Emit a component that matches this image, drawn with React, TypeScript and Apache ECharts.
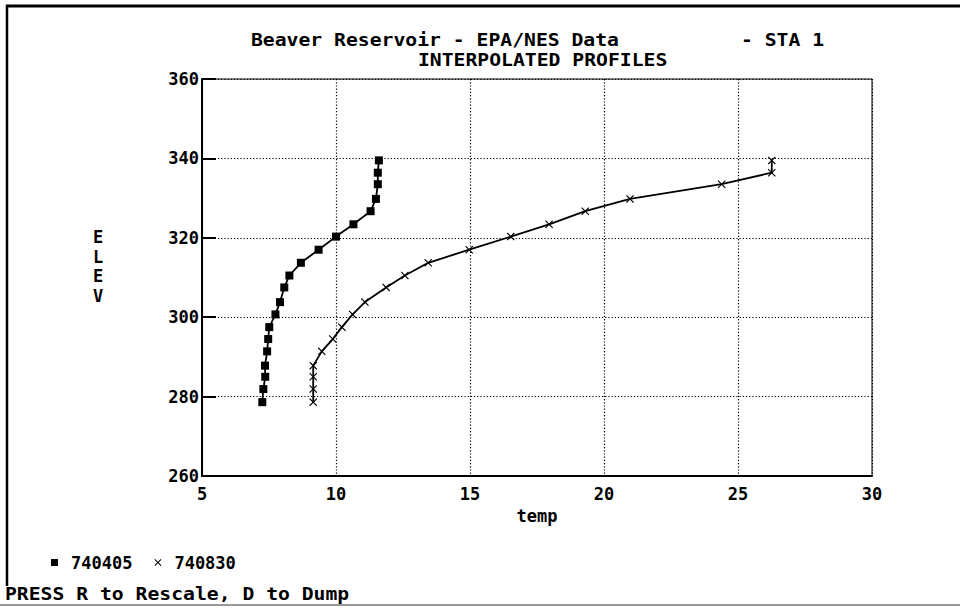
import React, { useEffect, useRef } from "react";
import * as echarts from "echarts";

// Elevation of each interpolated depth (shared by both profiles)
const elevation = [339.5, 336.4, 333.5, 329.8, 326.7, 323.4, 320.3, 317.0, 313.7, 310.5, 307.5, 303.8, 300.7, 297.5, 294.5, 291.4, 287.8, 285.0, 281.9, 278.6];
// Temperature profiles for each sampling date
const temp740405 = [11.6, 11.56, 11.56, 11.49, 11.29, 10.65, 10.0, 9.35, 8.69, 8.26, 8.07, 7.91, 7.74, 7.51, 7.47, 7.43, 7.35, 7.36, 7.29, 7.25];
const temp740830 = [26.26, 26.26, 24.39, 20.97, 19.3, 17.95, 16.52, 14.97, 13.44, 12.57, 11.87, 11.08, 10.62, 10.22, 9.88, 9.47, 9.15, 9.15, 9.15, 9.15];
const seriesNames = ["740405", "740830"];

const FONT = "'DejaVu Sans Mono', monospace";
const CROSS = "path://M1,0L5,4L9,0L10,1L6,5L10,9L9,10L5,6L1,10L0,9L4,5L0,1Z";

const pairs = (xs: number[]) => xs.map((t, i) => [t, elevation[i]]);

function txt(text: string, x: number, y: number, extra: any = {}) {
  return {
    type: "text",
    x,
    y,
    scaleX: 1.16,
    style: {
      text,
      fill: "#000",
      font: `bold 17px ${FONT}`,
      textAlign: "left",
      textVerticalAlign: "middle",
      ...extra,
    },
  };
}

export default function App() {
  const ref = useRef<HTMLDivElement>(null);

  useEffect(() => {
    document.body.style.margin = "0";
    const chart = echarts.init(ref.current!, null, { renderer: "svg" });
    chart.setOption({
      animation: false,
      backgroundColor: "#fff",
      textStyle: { fontFamily: FONT, fontWeight: "bold", color: "#000" },
      grid: {
        left: 202,
        top: 79,
        width: 670,
        height: 397,
        show: true,
        borderColor: "#000",
        borderWidth: 1,
      },
      xAxis: {
        type: "value",
        min: 5,
        max: 30,
        interval: 5,
        name: "temp",
        nameLocation: "middle",
        nameGap: 31,
        nameTextStyle: { fontFamily: FONT, fontWeight: "bold", fontSize: 17, color: "#000" },
        axisLine: { lineStyle: { color: "#000", width: 2 } },
        axisTick: { show: false },
        axisLabel: { margin: 9, fontFamily: FONT, fontWeight: "bold", fontSize: 17, color: "#000" },
        splitLine: { lineStyle: { color: "#000", width: 1.2, type: [1.2, 2] } },
      },
      yAxis: {
        type: "value",
        min: 260,
        max: 360,
        interval: 20,
        axisLine: { show: true, lineStyle: { color: "#000", width: 2 } },
        axisTick: { show: true, inside: true, length: 14, lineStyle: { color: "#000", width: 2 } },
        axisLabel: { margin: 3, fontFamily: FONT, fontWeight: "bold", fontSize: 17, color: "#000" },
        splitLine: { lineStyle: { color: "#000", width: 1.2, type: [1.2, 2] } },
      },
      legend: {
        left: 46,
        top: 549,
        itemWidth: 7,
        itemHeight: 7,
        itemGap: 22,
        textStyle: { fontFamily: FONT, fontWeight: "bold", fontSize: 17, color: "#000", padding: [0, 0, 0, 8] },
        data: [
          { name: seriesNames[0], icon: "rect" },
          { name: seriesNames[1], icon: CROSS },
        ],
      },
      series: [
        {
          name: seriesNames[0],
          type: "line",
          data: pairs(temp740405),
          symbol: "rect",
          symbolSize: 8,
          lineStyle: { color: "#000", width: 1.8 },
          itemStyle: { color: "#000" },
          z: 3,
        },
        {
          name: seriesNames[1],
          type: "line",
          data: pairs(temp740830),
          symbol: CROSS,
          symbolSize: 8,
          lineStyle: { color: "#000", width: 1.8 },
          itemStyle: { color: "#000" },
          z: 3,
        },
      ],
      graphic: [
        // screen frame
        { type: "line", shape: { x1: 6, y1: 6, x2: 960, y2: 6 }, style: { stroke: "#000", lineWidth: 3 } },
        { type: "line", shape: { x1: 7, y1: 5, x2: 7, y2: 586 }, style: { stroke: "#000", lineWidth: 2.5 } },
        { type: "line", shape: { x1: 0, y1: 605, x2: 960, y2: 605 }, style: { stroke: "#777", lineWidth: 1.5 } },
        txt("Beaver Reservoir - EPA/NES Data", 251, 40),
        txt("- STA 1", 741, 40),
        txt("INTERPOLATED PROFILES", 418, 60),
        {
          type: "text",
          x: 98,
          y: 227,
          style: {
            text: "E\nL\nE\nV",
            fill: "#000",
            font: `bold 17px ${FONT}`,
            textAlign: "center",
            textVerticalAlign: "top",
            lineHeight: 19.7,
          },
        },
        txt("PRESS R to Rescale, D to Dump", 5, 594),
      ],
    });
    return () => chart.dispose();
  }, []);

  return <div ref={ref} style={{ width: 960, height: 608 }} />;
}
